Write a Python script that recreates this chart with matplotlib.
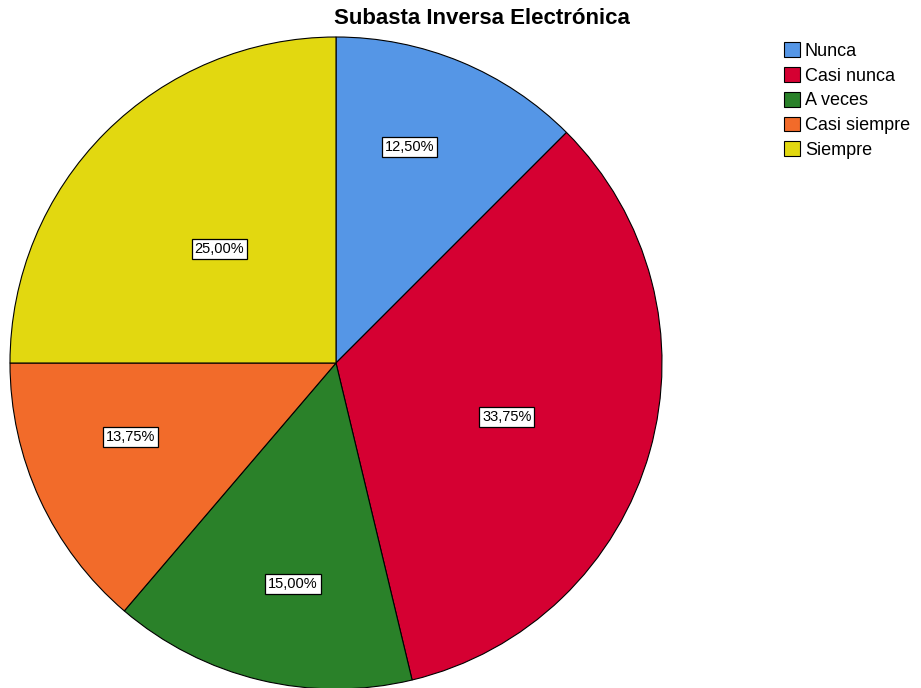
import numpy as np
import matplotlib.pyplot as plt
from matplotlib.patches import Patch

plt.rcParams['font.family'] = ['Liberation Sans', 'DejaVu Sans']

categories = ["Nunca", "Casi nunca", "A veces", "Casi siempre", "Siempre"]
percents = [12.50, 33.75, 15.00, 13.75, 25.00]
colors = ["#5596e6", "#d50032", "#2a8129", "#f26b2a", "#e2d810"]
# label placement: fraction of radius and angle shift (deg) from wedge middle
label_dist = [0.70, 0.55, 0.69, 0.67, 0.50]
label_shift = [3.7, -1.9, 2.5, -5.0, 0.7]

fig = plt.figure(figsize=(9.21, 6.88), dpi=100)
ax = fig.add_axes([10 / 921, -1 / 688, 652 / 921, 652 / 688])

wedges, _ = ax.pie(percents, colors=colors, startangle=90, counterclock=False,
                   wedgeprops=dict(edgecolor="black", linewidth=0.8))
ax.set_xlim(-1, 1)
ax.set_ylim(-1, 1)
ax.set_aspect("equal")

for w, p, d, s in zip(wedges, percents, label_dist, label_shift):
    ang = np.deg2rad((w.theta1 + w.theta2) / 2 + s)
    txt = f"{p:.2f}%".replace(".", ",")
    ax.text(d * np.cos(ang), d * np.sin(ang), txt, ha="center", va="center", fontsize=10.5,
            bbox=dict(boxstyle="square,pad=0.2", fc="white", ec="black", lw=0.9))

fig.text(482 / 921, 1 - 18 / 688, "Subasta Inversa Electrónica", ha="center", va="center",
         fontsize=16, fontweight="bold")

handles = [Patch(facecolor=c, edgecolor="black", linewidth=0.8) for c in colors]
fig.legend(handles, categories, loc="upper left", bbox_to_anchor=(777 / 921, 1 - 35 / 688),
           frameon=False, fontsize=13, handlelength=0.9, handleheight=0.9,
           handletextpad=0.25, labelspacing=0.39, borderaxespad=0)

fig.savefig("out.png", dpi=100)
